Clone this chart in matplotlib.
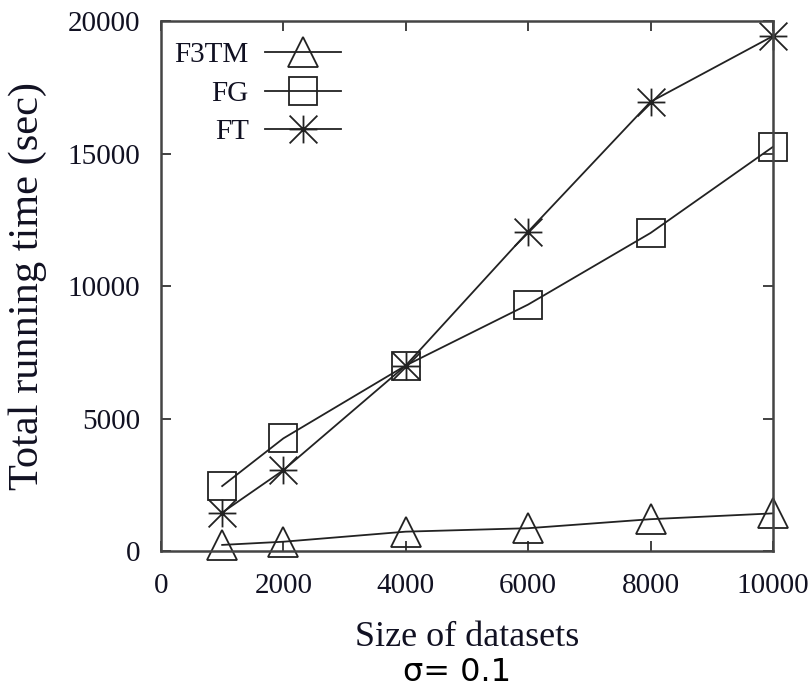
import matplotlib
matplotlib.use("Agg")
import matplotlib.pyplot as plt
from matplotlib.path import Path

sizes = [1000, 2000, 4000, 6000, 8000, 10000]
f3tm = [230, 350, 730, 860, 1200, 1420]
fg = [2450, 4250, 7000, 9300, 12000, 15250]
ft = [1450, 3050, 7000, 12050, 16950, 19430]
series_labels = ["F3TM", "FG", "FT"]
xticks = [0, 2000, 4000, 6000, 8000, 10000]
yticks = [0, 5000, 10000, 15000, 20000]

plt.rcParams['font.family'] = ['Liberation Serif', 'DejaVu Serif']

fig = plt.figure(figsize=(8.11, 6.91), dpi=100)
ax = fig.add_axes([0.1985, 0.2026, 0.7545, 0.767])

ast = Path([(-1, 0), (1, 0), (0, -1), (0, 1), (-1, -1), (1, 1), (-1, 1), (1, -1)],
           [Path.MOVETO, Path.LINETO] * 4)

lc = '#222222'
kw = dict(color=lc, lw=1.3, mfc='none', mec=lc, mew=1.3, ms=21, clip_on=False)
ax.plot(sizes, f3tm, marker='^', label=series_labels[0], **kw)
ax.plot(sizes, fg, marker='s', label=series_labels[1], **dict(kw, ms=20))
ax.plot(sizes, ft, marker=ast, label=series_labels[2], **dict(kw, ms=20))

ax.set_xlim(0, 10000)
ax.set_ylim(0, 20000)
ax.set_xticks(xticks)
ax.set_yticks(yticks)
ax.tick_params(direction='in', length=7, width=1.3, top=True, right=True,
               labelsize=21, colors='#333333', labelcolor='#111122')
ax.tick_params(axis='y', pad=15)
ax.tick_params(axis='x', pad=16)
for s in ax.spines.values():
    s.set_linewidth(1.8)
    s.set_color('#444444')

ax.set_xlabel("Size of datasets", fontsize=26, color='#111122', labelpad=16)
ax.set_ylabel("Total running time (sec)", fontsize=30.5, color='#111122', labelpad=15)

leg = ax.legend(loc='upper left', frameon=False, markerfirst=False, fontsize=21,
                handlelength=2.6, labelspacing=0.42, borderaxespad=0.0,
                handletextpad=0.55, bbox_to_anchor=(0.003, 0.983))
for col in leg._legend_handle_box.get_children():
    col.align = 'right'
for t in leg.get_texts():
    t.set_color('#111122')

fig.text(0.564, 0.014, "σ= 0.1", fontsize=23, family='DejaVu Sans',
         ha='center', va='baseline', color='black')

fig.savefig("out.png", dpi=100)
